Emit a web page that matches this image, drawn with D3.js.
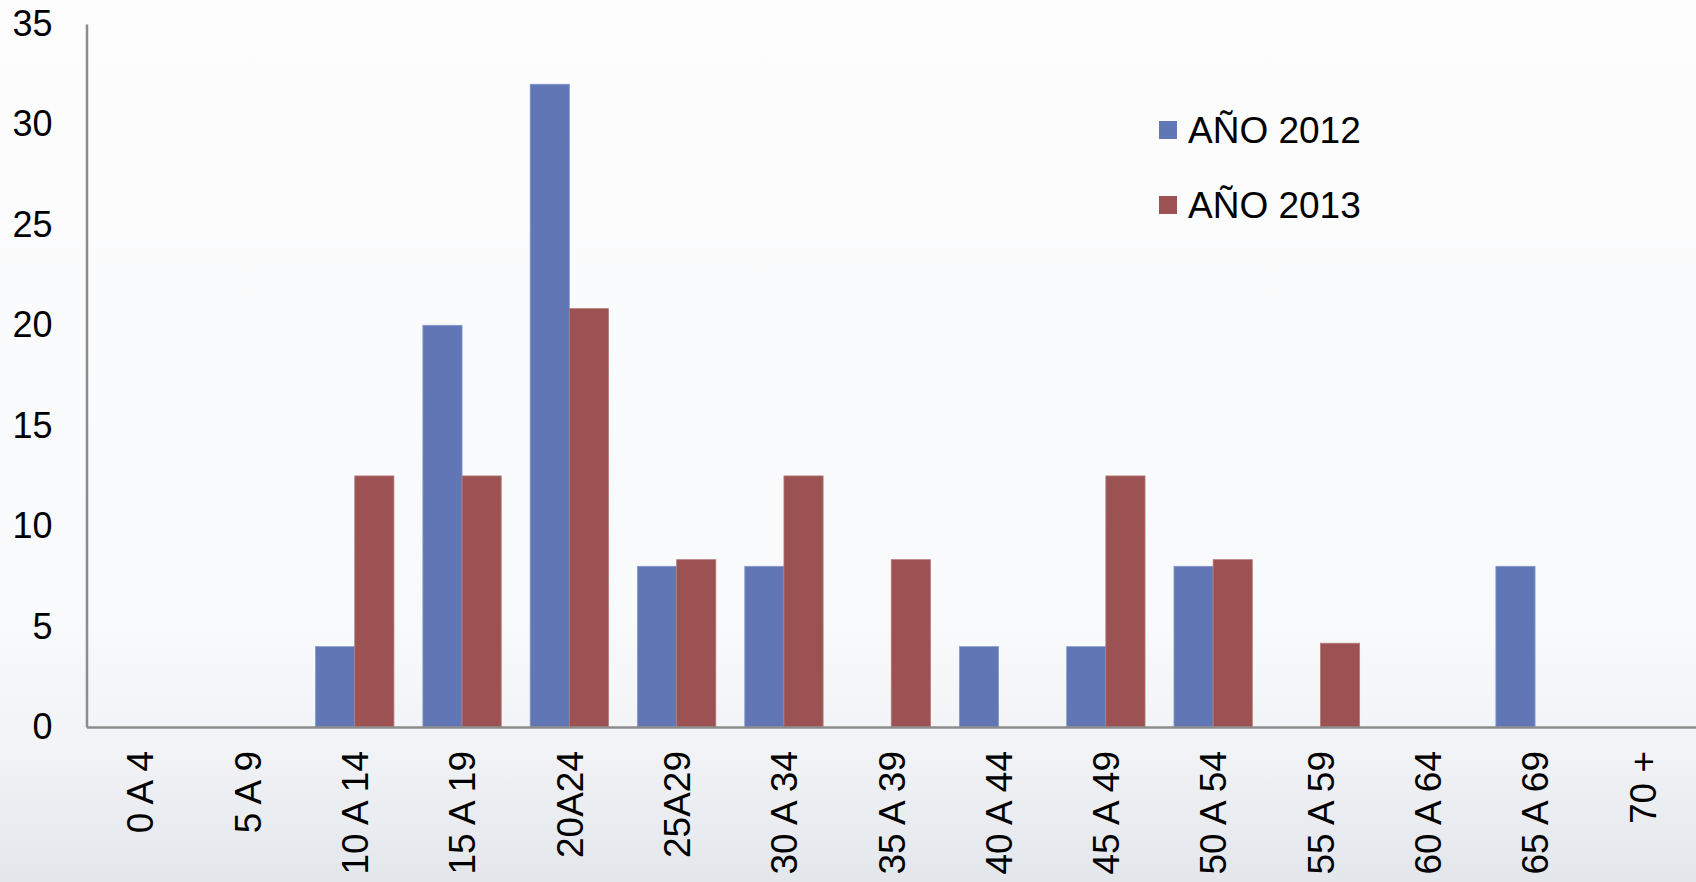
<!DOCTYPE html>
<html>
<head>
<meta charset="utf-8">
<script src="https://cdn.jsdelivr.net/npm/d3@7"></script>
<style>
  html, body { margin: 0; padding: 0; }
  body { width: 1696px; height: 882px; overflow: hidden; }
  svg { display: block; }
</style>
</head>
<body>
<svg id="chart" width="1696" height="882"></svg>
<script>
const categories = ["0 A 4","5 A 9","10 A 14","15 A 19","20A24","25A29","30 A 34","35 A 39","40 A 44","45 A 49","50 A 54","55 A 59","60 A 64","65 A 69","70 +"];
const seriesNames = ["AÑO 2012", "AÑO 2013"];
const values2012 = [0, 0, 4, 20, 32, 8, 8, 0, 4, 4, 8, 0, 0, 8, 0];
const values2013 = [0, 0, 12.5, 12.5, 20.83, 8.33, 12.5, 8.33, 0, 12.5, 8.33, 4.17, 0, 0, 0];
const yTicks = [0, 5, 10, 15, 20, 25, 30, 35];
const colors = ["#6177b5", "#9c5253"];

const W = 1696, H = 882;
const margin = { left: 86.5, right: 0, top: 24, bottom: 155 };
const svg = d3.select("#chart");

// background gradient
const defs = svg.append("defs");
const grad = defs.append("linearGradient").attr("id", "bg").attr("x1", 0).attr("y1", 0).attr("x2", 0).attr("y2", 1);
grad.append("stop").attr("offset", "0%").attr("stop-color", "#fdfdfe");
grad.append("stop").attr("offset", "70%").attr("stop-color", "#f9fafb");
grad.append("stop").attr("offset", "85%").attr("stop-color", "#f1f3f6");
grad.append("stop").attr("offset", "100%").attr("stop-color", "#e3e6eb");
svg.append("rect").attr("width", W).attr("height", H).attr("fill", "url(#bg)");

const baseline = 727;
const y = d3.scaleLinear().domain([0, 35]).range([baseline, margin.top]);
const x0 = d3.scaleBand().domain(categories).range([margin.left, W - margin.right]).paddingInner(0.27).paddingOuter(0.135);
const x1 = d3.scaleBand().domain(seriesNames).range([0, x0.bandwidth()]).padding(0);

const data = categories.map((c, i) => ({ cat: c, vals: [values2012[i], values2013[i]] }));

const groups = svg.append("g").selectAll("g").data(data).join("g")
  .attr("transform", d => `translate(${x0(d.cat)},0)`);
groups.selectAll("rect").data(d => d.vals.map((v, k) => ({ v, k })).filter(e => e.v > 0)).join("rect")
  .attr("x", e => x1(seriesNames[e.k]))
  .attr("y", e => y(e.v))
  .attr("width", x1.bandwidth())
  .attr("height", e => baseline - y(e.v))
  .attr("fill", e => colors[e.k])
  .attr("stroke", e => e.k === 0 ? "#8797c9" : "#b57a7b")
  .attr("stroke-width", 0.8);

// Y axis
const yAxis = svg.append("g").attr("transform", `translate(${margin.left},0)`)
  .call(d3.axisLeft(y).tickValues(yTicks).tickSize(0).tickPadding(34).tickFormat(d3.format("d")));
yAxis.select(".domain").attr("stroke", "#8c8c8c").attr("stroke-width", 2.5);
yAxis.selectAll("text").attr("font-family", "Liberation Sans, Arial, sans-serif").attr("font-size", 36).attr("fill", "#000");

// X axis
const xAxis = svg.append("g").attr("transform", `translate(0,${baseline})`)
  .call(d3.axisBottom(x0).tickSize(0).tickPadding(0));
xAxis.select(".domain").attr("stroke", "#8c8c8c").attr("stroke-width", 2.5);
xAxis.selectAll("text")
  .attr("font-family", "Liberation Sans, Arial, sans-serif").attr("font-size", 37).attr("fill", "#000")
  .attr("text-anchor", "end")
  .attr("transform", "rotate(-90)")
  .attr("x", -24).attr("y", 0).attr("dy", "0.36em");

// Legend
const legend = svg.append("g");
const legendY = [130, 205];
seriesNames.forEach((s, i) => {
  legend.append("rect").attr("x", 1159).attr("y", legendY[i] - 9).attr("width", 18).attr("height", 18).attr("fill", colors[i]);
  legend.append("text").attr("x", 1188).attr("y", legendY[i]).attr("dy", "0.36em")
    .attr("font-family", "Liberation Sans, Arial, sans-serif").attr("font-size", 37).attr("fill", "#000").text(s);
});
</script>
</body>
</html>
